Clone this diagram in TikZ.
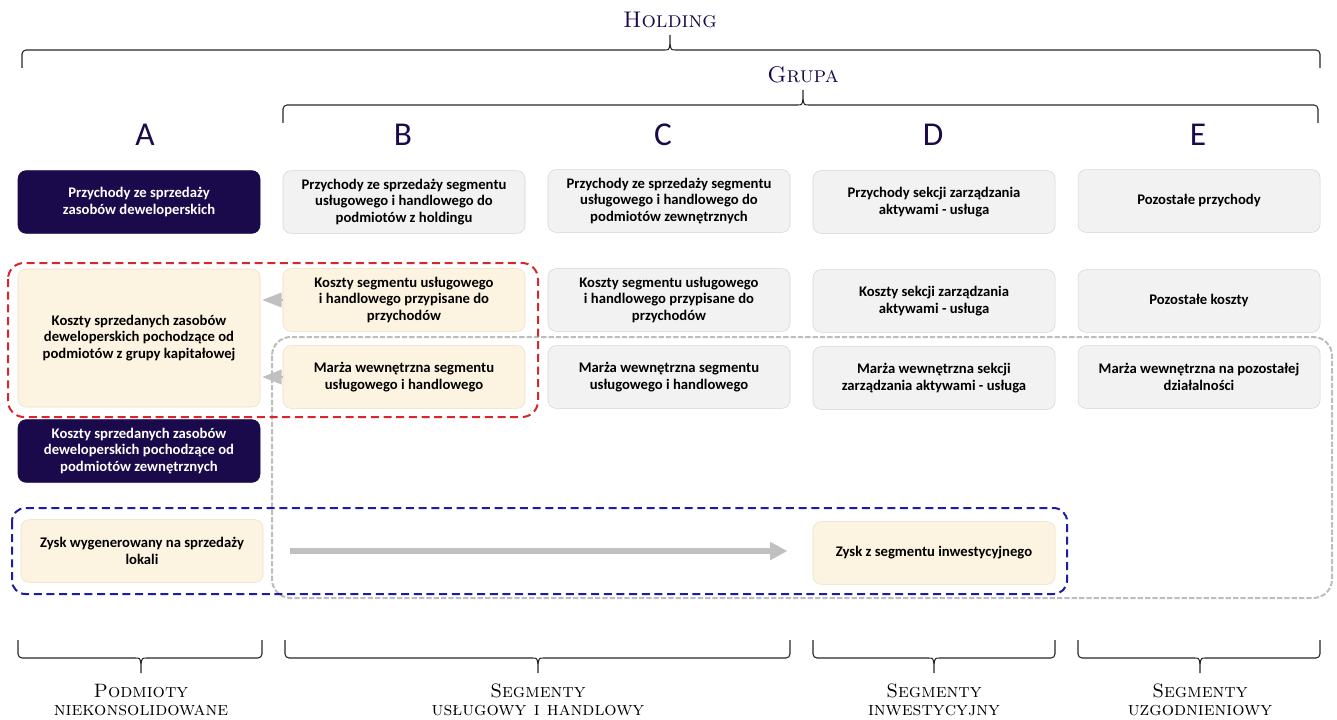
\documentclass[tikz,border=0pt]{standalone}
\usepackage{fontspec}
\newfontfamily\boxfont{Carlito}
\usetikzlibrary{arrows.meta}
\definecolor{navy}{HTML}{1A0A4B}
\definecolor{boxgray}{HTML}{F2F2F2}
\definecolor{boxline}{HTML}{D4D4D4}
\definecolor{cream}{HTML}{FDF3E1}
\definecolor{creamline}{HTML}{E9DEC8}
\definecolor{dashred}{HTML}{D9262C}
\definecolor{dashblue}{HTML}{1C1CA6}
\definecolor{dashgray}{HTML}{BDBDBD}
\definecolor{flowgray}{HTML}{C0C0C0}
\tikzset{
  box/.style={rounded corners=6pt, minimum width=181.5pt, minimum height=47pt, align=center,
    font=\boxfont\bfseries\fontsize{11}{12.3}\selectfont, draw=boxline, fill=boxgray},
  darkbox/.style={box, fill=navy, draw=navy, text=white},
  creambox/.style={box, fill=cream, draw=creamline},
  colhead/.style={text=navy, font=\boxfont\fontsize{25}{25}\selectfont},
  grouphead/.style={text=navy, font=\fontsize{17}{17}\selectfont\scshape},
  footlabel/.style={align=center, font=\fontsize{14.5}{13.8}\selectfont\scshape},
  bracestyle/.style={line width=0.8pt, draw=black!85},
}
% brace: x1, x2, tip x, line y, direction (1 = tip up, -1 = tip down)
\newcommand{\flatbrace}[5]{%
  \draw[bracestyle, rounded corners=3pt] (#1,#4+#5*18) -- (#1,#4) -- (#3-6,#4);
  \draw[bracestyle] (#3-6,#4) .. controls (#3-1,#4) .. (#3,#4-#5*6) -- (#3,#4-#5*15);
  \draw[bracestyle] (#3+6,#4) .. controls (#3+1,#4) .. (#3,#4-#5*6);
  \draw[bracestyle, rounded corners=3pt] (#2,#4+#5*18) -- (#2,#4) -- (#3+6,#4);
}
\begin{document}
\begin{tikzpicture}[x=0.75pt,y=-0.75pt]
\useasboundingbox (0,0) rectangle (1337,720);
% headings
\node[grouphead] (holding) at (670,20) {Holding};
\flatbrace{22}{1320}{670}{50}{1}
\node[grouphead] (grupa) at (803,75) {Grupa};
\flatbrace{283}{1318}{803}{105}{1}
\node[colhead] (la) at (145,135) {A};
\node[colhead] (lb) at (403,135) {B};
\node[colhead] (lc) at (663,135) {C};
\node[colhead] (ld) at (933,135) {D};
\node[colhead] (le) at (1198,135) {E};
% przychody
\node[darkbox] (a1) at (139,202) {Przychody ze sprzedaży\\zasobów deweloperskich};
\node[box] (b1) at (404,202) {Przychody ze sprzedaży segmentu\\usługowego i handlowego do\\podmiotów z holdingu};
\node[box] (c1) at (669,201) {Przychody ze sprzedaży segmentu\\usługowego i handlowego do\\podmiotów zewnętrznych};
\node[box] (d1) at (934,202) {Przychody sekcji zarządzania\\aktywami - usługa};
\node[box] (e1) at (1199,201) {Pozostałe przychody};
% koszty
\node[creambox, minimum height=103.5pt] (a2) at (139,338) {Koszty sprzedanych zasobów\\deweloperskich pochodzące od\\podmiotów z grupy kapitałowej};
\node[creambox] (b2) at (404,300) {Koszty segmentu usługowego\\i handlowego przypisane do\\przychodów};
\node[box] (c2) at (669,300) {Koszty segmentu usługowego\\i handlowego przypisane do\\przychodów};
\node[box] (d2) at (934,301) {Koszty sekcji zarządzania\\aktywami - usługa};
\node[box] (e2) at (1199,301) {Pozostałe koszty};
% marza
\node[creambox] (b3) at (404,377) {Marża wewnętrzna segmentu\\usługowego i handlowego};
\node[box] (c3) at (669,377) {Marża wewnętrzna segmentu\\usługowego i handlowego};
\node[box] (d3) at (934,378) {Marża wewnętrzna sekcji\\zarządzania aktywami - usługa};
\node[box] (e3) at (1199,377) {Marża wewnętrzna na pozostałej\\działalności};
\node[darkbox] (a4) at (139,451) {Koszty sprzedanych zasobów\\deweloperskich pochodzące od\\podmiotów zewnętrznych};
% zysk
\node[creambox] (a5) at (142,551) {Zysk wygenerowany na sprzedaży\\lokali};
\node[creambox] (d5) at (934,553) {Zysk z segmentu inwestycyjnego};
% groups
\draw[dashgray, line width=1.5pt, dash pattern=on 4pt off 1.5pt, rounded corners=14pt] (272,337) rectangle (1332,598);
\draw[dashred, line width=1.5pt, dash pattern=on 6pt off 3.5pt, rounded corners=12pt] (8,263) rectangle (538,417);
\draw[dashblue, line width=1.5pt, dash pattern=on 6pt off 3.5pt, rounded corners=10pt] (12,508) rectangle (1067,594);
% flows
\draw[flowgray, line width=1pt, shorten >=1.5pt, -{Triangle[length=14.5pt,width=11pt]}] (b2.west) -- (a2.east |- b2.west);
\draw[flowgray, line width=1pt, shorten >=1.5pt, -{Triangle[length=14.5pt,width=11pt]}] (b3.west) -- (a2.east |- b3.west);
\draw[flowgray, line width=4.5pt, shorten <=20pt, shorten >=19pt, -{Triangle[length=13pt,width=13pt]}] (a5.east) -- (d5.west |- a5.east);
% segmenty
\flatbrace{18}{262}{141}{658}{-1}
\flatbrace{285}{790}{538}{658}{-1}
\flatbrace{813}{1055}{934}{658}{-1}
\flatbrace{1078}{1320}{1200}{658}{-1}
\node[footlabel] (fa) at (141,700) {Podmioty\\niekonsolidowane};
\node[footlabel] (fb) at (538,700) {Segmenty\\usługowy i handlowy};
\node[footlabel] (fd) at (934,700) {Segmenty\\inwestycyjny};
\node[footlabel] (fe) at (1200,700) {Segmenty\\uzgodnieniowy};
\end{tikzpicture}
\end{document}
